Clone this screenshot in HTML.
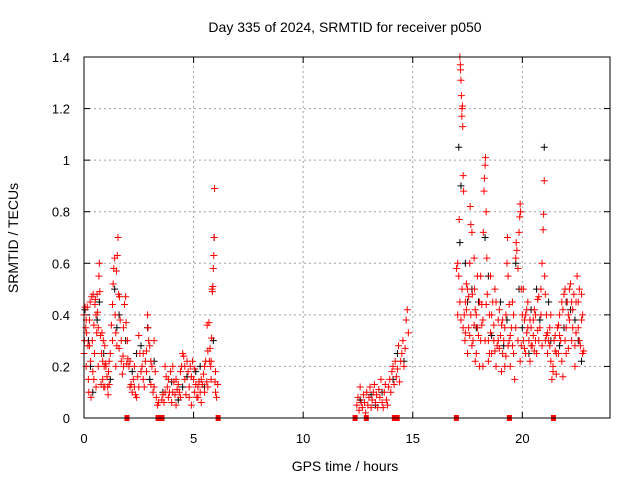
<!DOCTYPE html>
<html><head><meta charset="utf-8"><style>
html,body{margin:0;padding:0;background:#fff;}
svg{display:block;font-family:"Liberation Sans",sans-serif;}
</style></head><body>
<svg id="chart" width="640" height="480" viewBox="0 0 640 480" xmlns="http://www.w3.org/2000/svg">
<rect width="640" height="480" fill="#fff"/>
<text x="345" y="32" font-size="14" text-anchor="middle">Day 335 of 2024, SRMTID for receiver p050</text>
<text x="345" y="471" font-size="14" text-anchor="middle">GPS time / hours</text>
<text transform="translate(18,238) rotate(-90)" font-size="14" text-anchor="middle">SRMTID / TECUs</text>
<g id="grid"></g>
<g id="ticks"></g>
<g id="marks"></g>
<rect x="84" y="57" width="526" height="361" fill="none" stroke="#000" stroke-width="1"/>
</svg>
<script>
const xTicks=[0,5,10,15,20];
const yTicks=[0,0.2,0.4,0.6,0.8,1,1.2,1.4];
const yTickLabels=["0","0.2","0.4","0.6","0.8","1","1.2","1.4"];
const gapHours=[1.96,3.38,3.56,6.12,12.37,12.88,14.16,14.29,16.99,19.41,21.42];
const blackPts=[[0.05,0.42],[0.2,0.3],[0.4,0.1],[0.6,0.38],[0.9,0.25],[1.2,0.15],[1.4,0.5],[1.6,0.4],[1.9,0.3],[2.2,0.18],[2.6,0.28],[2.9,0.35],[3.2,0.22],[3.6,0.1],[4.0,0.14],[4.3,0.07],[4.7,0.16],[5.1,0.18],[5.5,0.12],[5.94,0.7],[5.9,0.3],[12.6,0.07],[13.1,0.09],[13.6,0.1],[14.1,0.15],[14.6,0.22],[17.1,1.05],[17.2,0.9],[17.15,0.68],[17.4,0.6],[17.7,0.5],[18.0,0.45],[18.3,0.7],[18.6,0.32],[19.0,0.45],[19.3,0.38],[19.7,0.6],[20.0,0.35],[20.4,0.42],[20.8,0.38],[21.0,1.05],[21.3,0.3],[21.7,0.28],[22.0,0.45],[22.4,0.38],[22.7,0.22],
[0.3,0.2],[0.7,0.45],[1.5,0.35],[2.4,0.25],[3.0,0.15],[4.5,0.12],[5.3,0.2],[13.3,0.05],[14.3,0.25],[17.5,0.45],[17.9,0.35],[18.45,0.55],[19.15,0.28],[19.85,0.5],[20.3,0.25],[20.65,0.5],[21.2,0.45],[21.9,0.35],[22.2,0.42],[22.55,0.3]];
const redPts=[[0,0.25],[0,0.4],[0.02,0.3],[0.05,0.43],[0.08,0.35],[0.1,0.2],[0.12,0.33],[0.15,0.43],[0.18,0.28],[0.2,0.15],[0.22,0.1],[0.25,0.38],[0.28,0.45],[0.3,0.22],[0.32,0.08],[0.35,0.47],[0.38,0.3],[0.4,0.18],[0.42,0.48],[0.45,0.36],[0.48,0.25],[0.5,0.44],[0.52,0.46],[0.55,0.12],[0.58,0.33],[0.6,0.48],[0.62,0.41],[0.65,0.2],[0.68,0.55],[0.7,0.6],[0.72,0.49],[0.75,0.32],[0.78,0.13],[0.8,0.25],[0.82,0.33],[0.85,0.22],[0.88,0.3],[0.9,0.12],[0.92,0.2],[0.95,0.28],[0.98,0.21],[1.0,0.2],
[1.05,0.16],[1.08,0.12],[1.1,0.09],[1.12,0.18],[1.15,0.13],[1.2,0.25],[1.25,0.36],[1.3,0.44],[1.33,0.52],[1.36,0.58],[1.4,0.62],[1.42,0.4],[1.45,0.33],[1.48,0.57],[1.5,0.28],[1.52,0.63],[1.55,0.7],[1.58,0.48],[1.6,0.27],[1.62,0.47],[1.65,0.38],[1.7,0.22],[1.75,0.17],[1.78,0.24],[1.8,0.2],[1.85,0.44],[1.9,0.47],[1.92,0.37],[1.95,0.21],[1.98,0.3],[2.0,0.23],
[2.05,0.2],[2.1,0.22],[2.15,0.13],[2.2,0.1],[2.25,0.15],[2.3,0.12],[2.35,0.09],[2.4,0.08],[2.45,0.16],[2.5,0.32],[2.55,0.25],[2.6,0.18],[2.65,0.2],[2.7,0.15],[2.75,0.12],[2.8,0.22],[2.85,0.26],[2.9,0.4],[2.92,0.35],[2.95,0.3],[3.0,0.28],[3.05,0.13],[3.1,0.2],[3.15,0.1],[3.2,0.3],[3.25,0.18],[3.3,0.08],[3.35,0.05],[3.4,0.06],
[3.55,0.07],[3.6,0.09],[3.65,0.06],[3.7,0.2],[3.75,0.16],[3.8,0.12],[3.85,0.08],[3.9,0.1],[3.95,0.18],[4.0,0.06],[4.05,0.2],[4.1,0.14],[4.15,0.09],[4.2,0.05],[4.25,0.11],[4.3,0.13],[4.35,0.1],[4.4,0.08],[4.45,0.2],[4.5,0.25],[4.55,0.24],[4.6,0.15],[4.65,0.09],[4.7,0.22],[4.75,0.18],[4.8,0.12],[4.85,0.2],[4.9,0.05],[4.95,0.22],[5.0,0.15],[5.05,0.1],[5.1,0.13],[5.15,0.08],[5.2,0.12],[5.25,0.14],[5.3,0.1],[5.35,0.06],[5.4,0.13],[5.45,0.17],[5.5,0.2],
[5.55,0.22],[5.6,0.14],[5.62,0.36],[5.65,0.26],[5.7,0.37],[5.72,0.22],[5.75,0.27],[5.78,0.2],[5.8,0.15],[5.82,0.31],[5.84,0.5],[5.86,0.49],[5.88,0.51],[5.9,0.58],[5.92,0.63],[5.94,0.7],[5.96,0.89],[5.98,0.14],[6.0,0.1],[6.05,0.08],[6.1,0.13],
[0.1,0.38],[0.25,0.28],[0.45,0.15],[0.55,0.4],[0.65,0.35],[0.85,0.15],[0.95,0.12],[1.15,0.22],[1.3,0.3],[1.45,0.2],[1.7,0.3],[1.8,0.35],[2.1,0.12],[2.3,0.2],[2.5,0.12],[2.7,0.25],[2.85,0.18],[3.05,0.22],[3.2,0.12],[3.7,0.1],[3.85,0.15],[4.05,0.1],[4.2,0.15],[4.4,0.18],[4.6,0.2],[4.8,0.08],[4.9,0.16],[5.05,0.19],[5.2,0.08],[5.35,0.15],[5.5,0.1],[5.65,0.12],[5.8,0.22],[6.0,0.18],
[12.45,0.05],[12.5,0.08],[12.55,0.03],[12.6,0.12],[12.65,0.06],[12.7,0.04],[12.75,0.09],[12.8,0.06],[12.85,0.02],[12.9,0.1],[12.95,0.05],[13.0,0.08],[13.05,0.12],[13.1,0.04],[13.15,0.07],[13.2,0.1],[13.25,0.13],[13.3,0.06],[13.35,0.09],[13.4,0.04],[13.45,0.11],[13.5,0.08],[13.55,0.15],[13.6,0.06],[13.65,0.04],[13.7,0.1],[13.75,0.13],[13.8,0.07],[13.85,0.05],[13.9,0.12],[13.95,0.15],[14.0,0.1],[14.05,0.18],[14.1,0.2],[14.15,0.13],[14.2,0.22],[14.25,0.16],[14.3,0.19],[14.35,0.28],[14.4,0.14],[14.45,0.22],[14.5,0.25],[14.55,0.3],[14.6,0.2],[14.65,0.27],[14.7,0.38],[14.75,0.42],[14.8,0.33],
[17.0,0.58],[17.05,0.6],[17.1,0.55],[17.12,0.77],[17.15,1.4],[17.17,1.37],[17.18,1.35],[17.2,1.31],[17.22,1.25],[17.24,1.17],[17.25,1.2],[17.27,1.21],[17.28,1.13],[17.3,0.94],[17.32,0.88],[17.35,0.4],[17.38,0.3],[17.4,0.45],[17.45,0.52],[17.5,0.25],[17.55,0.35],[17.6,0.6],[17.62,0.82],[17.65,0.75],[17.7,0.72],[17.72,0.48],[17.75,0.3],[17.8,0.62],[17.82,0.5],[17.85,0.22],[17.9,0.4],[17.95,0.55],[18.0,0.32],[18.05,0.45],[18.1,0.55],[18.15,0.36],[18.2,0.2],[18.22,0.72],[18.25,0.88],[18.27,0.93],[18.3,0.98],[18.32,1.01],[18.35,0.8],[18.38,0.62],[18.4,0.48],[18.45,0.3],[18.5,0.4],[18.55,0.55],[18.6,0.25],[18.65,0.45],[18.7,0.36],[18.75,0.5],[18.8,0.2],[18.85,0.28],[18.9,0.38],[18.95,0.27],[19.0,0.32],[19.05,0.18],[19.1,0.25],[19.15,0.3],[19.2,0.35],[19.25,0.4],[19.3,0.6],[19.32,0.7],[19.35,0.55],[19.4,0.3],[19.45,0.2],[19.5,0.35],[19.55,0.45],[19.6,0.25],[19.65,0.15],[19.7,0.62],[19.72,0.68],[19.75,0.65],[19.8,0.58],[19.85,0.72],[19.88,0.78],[19.9,0.83],[19.92,0.8],[19.95,0.5],[20.0,0.4],[20.05,0.3],[20.1,0.38],[20.15,0.25],[20.2,0.33],[20.25,0.45],[20.3,0.3],[20.35,0.22],[20.4,0.35],[20.45,0.28],[20.5,0.38],[20.55,0.42],[20.6,0.3],[20.65,0.25],[20.7,0.46],[20.75,0.47],[20.8,0.35],[20.85,0.5],[20.9,0.6],[20.95,0.73],[20.97,0.79],[21.0,0.92],[21.02,0.55],[21.05,0.48],[21.1,0.4],[21.15,0.33],[21.2,0.3],[21.25,0.28],[21.3,0.22],[21.35,0.15],[21.4,0.2],[21.45,0.3],[21.5,0.26],[21.55,0.17],[21.6,0.35],[21.65,0.25],[21.7,0.4],[21.75,0.3],[21.8,0.22],[21.85,0.16],[21.9,0.48],[21.95,0.5],[22.0,0.35],[22.05,0.45],[22.1,0.27],[22.15,0.38],[22.2,0.52],[22.25,0.3],[22.3,0.42],[22.35,0.48],[22.4,0.2],[22.45,0.33],[22.5,0.55],[22.55,0.45],[22.6,0.5],[22.65,0.28],[22.7,0.38],[22.75,0.25],[22.8,0.26],
[17.05,0.4],[17.2,0.38],[17.3,0.35],[17.45,0.42],[17.5,0.5],[17.6,0.32],[17.7,0.28],[17.85,0.42],[17.95,0.35],[18.05,0.2],[18.15,0.44],[18.3,0.3],[18.5,0.25],[18.6,0.4],[18.7,0.3],[18.8,0.45],[18.95,0.42],[19.1,0.38],[19.2,0.2],[19.35,0.28],[19.45,0.32],[19.6,0.4],[19.8,0.3],[19.9,0.22],[20.05,0.5],[20.15,0.4],[20.25,0.35],[20.4,0.28],[20.5,0.32],[20.6,0.4],[20.75,0.3],[20.9,0.28],[21.05,0.3],[21.15,0.25],[21.25,0.35],[21.4,0.18],[21.55,0.25],[21.7,0.32],[21.85,0.42],[22.0,0.25],[22.15,0.5],[22.3,0.35],[22.45,0.45],[22.6,0.3],[22.75,0.4],
[17.15,0.45],[17.25,0.5],[17.4,0.33],[17.55,0.47],[17.65,0.4],[17.8,0.36],[17.9,0.25],[18.1,0.3],[18.2,0.38],[18.35,0.44],[18.45,0.22],[18.55,0.33],[18.75,0.26],[18.9,0.3],[19.05,0.36],[19.25,0.24],[19.4,0.44],[19.55,0.28],[19.7,0.35],[19.95,0.28],[20.1,0.27],[20.2,0.42],[20.35,0.38],[20.55,0.26],[20.7,0.34],[20.85,0.4],[21.1,0.32],[21.3,0.4],[21.5,0.32],[21.65,0.36],[21.8,0.45],[21.95,0.3],[22.1,0.4],[22.25,0.45],[22.4,0.28],[22.55,0.35],[22.7,0.48]];

const NS="http://www.w3.org/2000/svg";
const X0=84,X1=610,Y0=418,Y1=57,XMAX=24,YMAX=1.4;
function xs(h){return X0+(X1-X0)*h/XMAX;}
function ys(v){return Y0-(Y0-Y1)*v/YMAX;}
function mk(tag,attrs,parent){const e=document.createElementNS(NS,tag);for(const k in attrs)e.setAttribute(k,attrs[k]);parent.appendChild(e);return e;}
const grid=document.getElementById('grid'),ticks=document.getElementById('ticks'),marks=document.getElementById('marks');
xTicks.forEach(t=>{
  const x=xs(t);
  if(t>0){const g=mk('line',{x1:x,x2:x,y1:Y0,y2:Y1,stroke:'#a0a0a0','stroke-dasharray':'2,3'},grid);
  
  }
  mk('line',{x1:x,x2:x,y1:Y0,y2:Y0-6,stroke:'#000'},ticks);
  mk('line',{x1:x,x2:x,y1:Y1,y2:Y1+6,stroke:'#000'},ticks);
  const l=mk('text',{x:x,y:443,'font-size':13,'text-anchor':'middle'},ticks);l.textContent=t;
  
  
});
yTicks.forEach((t,i)=>{
  const y=ys(t);
  if(t>0&&t<YMAX){const g=mk('line',{x1:X0,x2:X1,y1:y,y2:y,stroke:'#a0a0a0','stroke-dasharray':'2,3'},grid);
  
  }
  mk('line',{x1:X0,x2:X0+6,y1:y,y2:y,stroke:'#000'},ticks);
  mk('line',{x1:X1,x2:X1-6,y1:y,y2:y,stroke:'#000'},ticks);
  const l=mk('text',{x:X0-14,y:y+5,'font-size':13,'text-anchor':'end'},ticks);l.textContent=yTickLabels[i];
  
  
});
function cross(p,color){
  const x=xs(p[0]),y=ys(p[1]);
  const e=mk('path',{d:`M${x-3.5},${y}H${x+3.5}M${x},${y-3.5}V${y+3.5}`,stroke:color,'stroke-width':1,fill:'none'},marks);
  return e;
}
blackPts.forEach(p=>{const e=cross(p,'#000');
  
  });
redPts.forEach(p=>{const e=cross(p,'#f00');
  
  });
gapHours.forEach(h=>{const e=mk('rect',{x:xs(h)-2.5,y:Y0-3,width:5,height:6,fill:'#f00'},marks);
  
  });
</script>
</body></html>
